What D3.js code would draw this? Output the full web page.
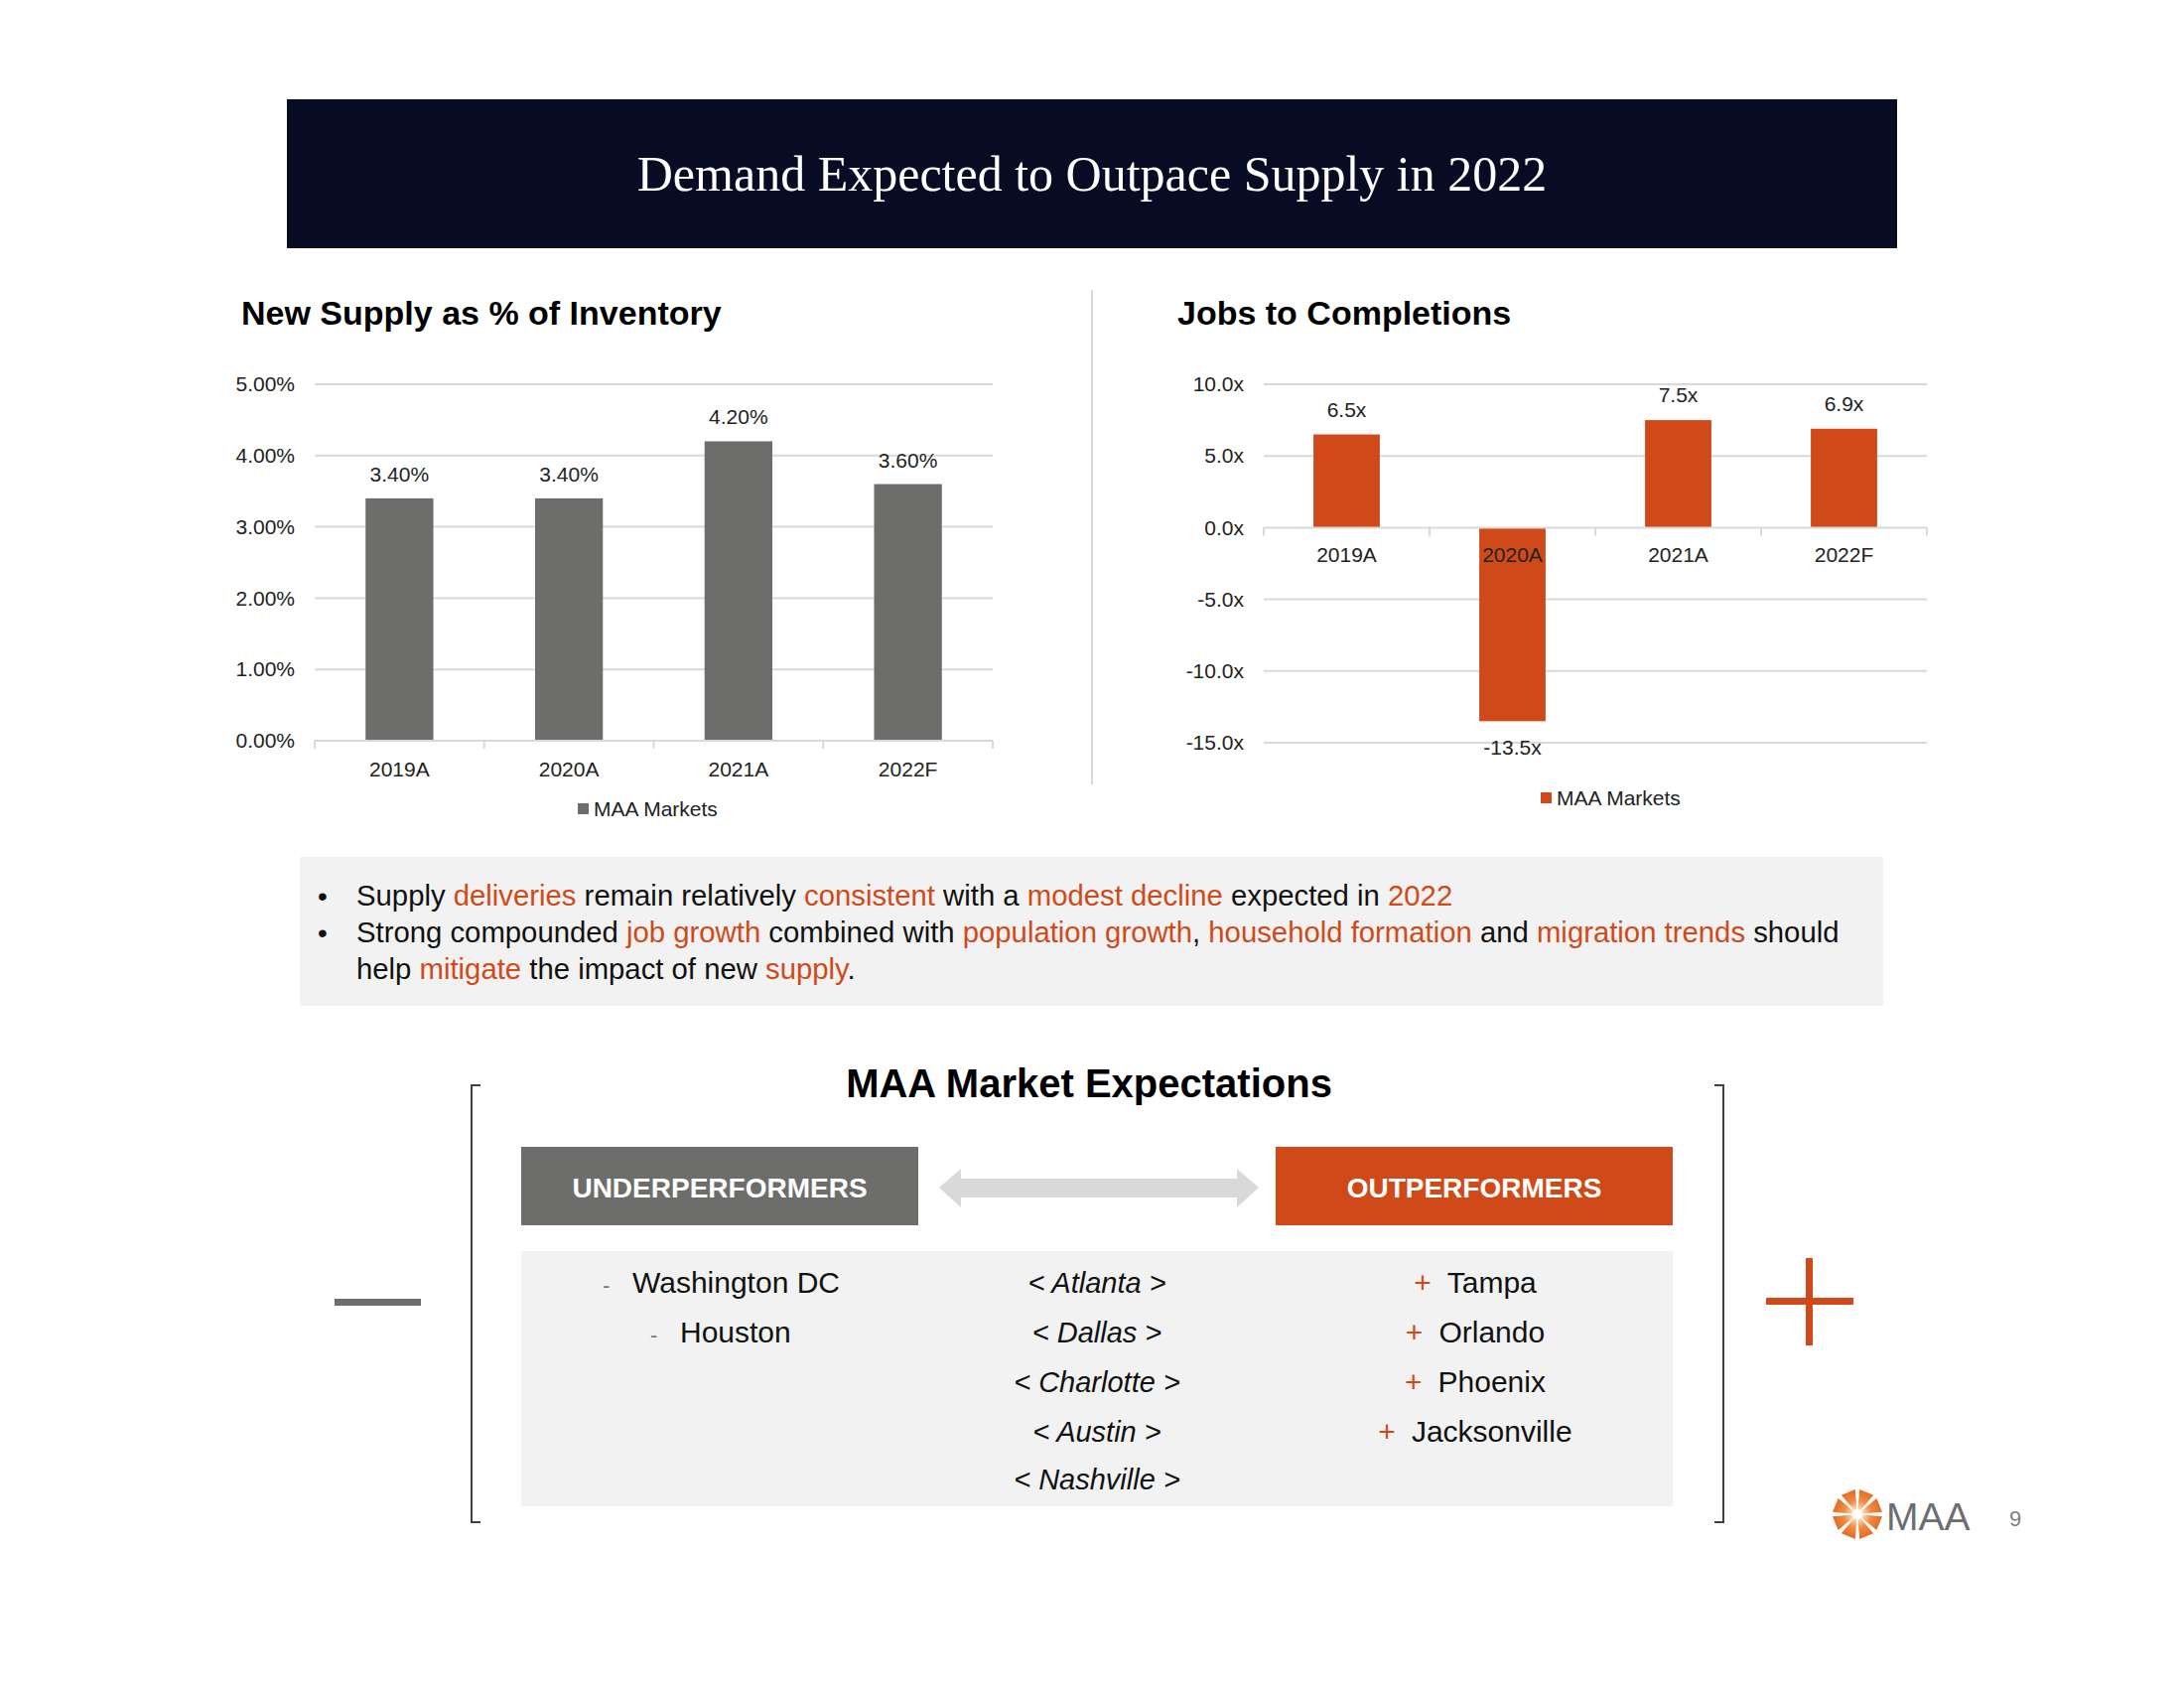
<!DOCTYPE html>
<html>
<head>
<meta charset="utf-8">
<script src="https://cdn.jsdelivr.net/npm/d3@7"></script>
<style>
  html, body { margin: 0; padding: 0; background: #ffffff; }
  svg { display: block; }
  text { font-family: "Liberation Sans", Arial, sans-serif; }
</style>
</head>
<body>
<svg id="chart" width="2200" height="1700"></svg>
<script>
// ---------------- DATA ----------------
const categories = ["2019A", "2020A", "2021A", "2022F"];
const supplyPct = [3.4, 3.4, 4.2, 3.6];
const jobsRatio = [6.5, -13.5, 7.5, 6.9];
const supplyTicks = [0, 1, 2, 3, 4, 5];
const jobsTicks = [-15, -10, -5, 0, 5, 10];
const legendLabel = "MAA Markets";
const pageTitle = "Demand Expected to Outpace Supply in 2022";
const supplyTitle = "New Supply as % of Inventory";
const jobsTitle = "Jobs to Completions";
const bullet1 = [["Supply ", false], ["deliveries", true], [" remain relatively ", false], ["consistent", true], [" with a ", false], ["modest decline", true], [" expected in ", false], ["2022", true]];
const bullet2 = [["Strong compounded ", false], ["job growth", true], [" combined with ", false], ["population growth", true], [", ", false], ["household formation", true], [" and ", false], ["migration trends", true], [" should", false]];
const bullet3 = [["help ", false], ["mitigate", true], [" the impact of new ", false], ["supply", true], [".", false]];
const expectationsTitle = "MAA Market Expectations";
const underLabel = "UNDERPERFORMERS";
const outLabel = "OUTPERFORMERS";
const underperformers = ["Washington DC", "Houston"];
const neutralMarkets = ["Atlanta", "Dallas", "Charlotte", "Austin", "Nashville"];
const outperformers = ["Tampa", "Orlando", "Phoenix", "Jacksonville"];
const pageNumber = "9";

// ---------------- STYLE ----------------
const NAVY = "#070c24", GRAY = "#6d6e6b", ORANGE = "#d04a19", GRID = "#d9d9d9", PANEL = "#f2f2f2";
const svg = d3.select("#chart");
const loc = d3.formatLocale({ decimal: ".", thousands: ",", grouping: [3], currency: ["$", ""], minus: "-" });
const f2 = loc.format(".2f"), f1 = loc.format(".1f");

// Header banner
svg.append("rect").attr("x", 289).attr("y", 100).attr("width", 1622).attr("height", 150).attr("fill", NAVY);
svg.append("text").attr("x", 1100).attr("y", 192).attr("text-anchor", "middle")
  .style("font-family", "'Liberation Serif', 'Times New Roman', serif").style("font-size", "50px").attr("fill", "#ffffff")
  .text(pageTitle);

// Divider
svg.append("line").attr("x1", 1100).attr("x2", 1100).attr("y1", 292).attr("y2", 790).attr("stroke", GRID).attr("stroke-width", 2);

function barChart(opts) {
  const g = svg.append("g");
  const x = d3.scaleBand().domain(categories).range([opts.x0, opts.x1]).padding(0);
  const y = d3.scaleLinear().domain(opts.domain).range([opts.yBottom, opts.yTop]);
  g.append("text").attr("x", opts.titleX).attr("y", 327).style("font-size", "34px").style("font-weight", "bold")
    .attr("fill", "#000").text(opts.title);
  g.selectAll(".grid").data(opts.ticks.filter(t => t !== opts.axisAt)).join("line")
    .attr("x1", opts.x0).attr("x2", opts.x1).attr("y1", d => y(d)).attr("y2", d => y(d))
    .attr("stroke", GRID).attr("stroke-width", 2);
  const ya = g.append("g").attr("transform", `translate(${opts.x0},0)`)
    .call(d3.axisLeft(y).tickValues(opts.ticks).tickSize(0).tickPadding(20).tickFormat(opts.tickFmt));
  ya.select(".domain").remove();
  ya.selectAll("text").style("font-family", "'Liberation Sans', Arial, sans-serif").style("font-size", "21px").attr("fill", "#222");
  const bw = x.bandwidth() * 0.4;
  g.selectAll(".bar").data(opts.values).join("rect")
    .attr("x", (d, i) => x(categories[i]) + (x.bandwidth() - bw) / 2)
    .attr("width", bw)
    .attr("y", d => Math.min(y(d), y(0)))
    .attr("height", d => Math.abs(y(d) - y(0)))
    .attr("fill", opts.color);
  const y0 = y(opts.axisAt);
  g.append("line").attr("x1", opts.x0).attr("x2", opts.x1).attr("y1", y0).attr("y2", y0).attr("stroke", GRID).attr("stroke-width", 2);
  const bounds = categories.map(c => x(c)).concat([opts.x1]);
  g.selectAll(".tk").data(bounds).join("line")
    .attr("x1", d => d).attr("x2", d => d).attr("y1", y0).attr("y2", y0 + 8)
    .attr("stroke", GRID).attr("stroke-width", 2);
  const xa = g.append("g").attr("transform", `translate(0,${y0})`)
    .call(d3.axisBottom(x).tickSize(0).tickPadding(opts.catPad));
  xa.select(".domain").remove();
  xa.selectAll("text").style("font-family", "'Liberation Sans', Arial, sans-serif").style("font-size", "21px").attr("fill", "#222");
  g.selectAll(".vl").data(opts.values).join("text")
    .attr("x", (d, i) => x(categories[i]) + x.bandwidth() / 2)
    .attr("y", d => d >= 0 ? y(d) - opts.labelGap : y(d) + 34)
    .attr("text-anchor", "middle").style("font-size", "21px").attr("fill", "#222")
    .text(opts.valFmt);
  g.append("rect").attr("x", opts.legX).attr("y", opts.legY - 5).attr("width", 11).attr("height", 11).attr("fill", opts.color);
  g.append("text").attr("x", opts.legX + 16).attr("y", opts.legY + 8).style("font-size", "21px").attr("fill", "#222").text(legendLabel);
}

barChart({
  x0: 317, x1: 1000, yTop: 387, yBottom: 746, domain: [0, 5], ticks: supplyTicks, axisAt: 0,
  values: supplyPct, color: GRAY, title: supplyTitle, titleX: 243,
  tickFmt: d => f2(d) + "%", valFmt: d => f2(d) + "%",
  catPad: 21, labelGap: 17, legX: 582, legY: 814
});
barChart({
  x0: 1273, x1: 1941, yTop: 387, yBottom: 748, domain: [-15, 10], ticks: jobsTicks, axisAt: 0,
  values: jobsRatio, color: ORANGE, title: jobsTitle, titleX: 1186,
  tickFmt: d => f1(d) + "x", valFmt: d => f1(d) + "x",
  catPad: 20, labelGap: 18, legX: 1552, legY: 803
});

// Bullet box
svg.append("rect").attr("x", 302).attr("y", 863).attr("width", 1595).attr("height", 150).attr("fill", PANEL);
function richLine(parts, x, y) {
  const t = svg.append("text").attr("x", x).attr("y", y).style("font-size", "29.3px");
  parts.forEach(p => t.append("tspan").attr("fill", p[1] ? ORANGE : "#111").text(p[0]));
}
[912, 949].forEach(yy => {
  svg.append("text").attr("x", 320).attr("y", yy).style("font-size", "28px").attr("fill", "#111").text("•");
});
richLine(bullet1, 359, 912);
richLine(bullet2, 359, 949);
richLine(bullet3, 359, 986);

// Expectations section
svg.append("text").attr("x", 1097).attr("y", 1105).attr("text-anchor", "middle")
  .style("font-size", "40px").style("font-weight", "bold").attr("fill", "#000").text(expectationsTitle);
const br = d3.path();
br.moveTo(484, 1093); br.lineTo(475, 1093); br.lineTo(475, 1533); br.lineTo(484, 1533);
br.moveTo(1727, 1093); br.lineTo(1736, 1093); br.lineTo(1736, 1533); br.lineTo(1727, 1533);
svg.append("path").attr("d", br.toString()).attr("fill", "none").attr("stroke", "#404040").attr("stroke-width", 2);
svg.append("rect").attr("x", 525).attr("y", 1155).attr("width", 400).attr("height", 79).attr("fill", GRAY);
svg.append("rect").attr("x", 1285).attr("y", 1155).attr("width", 400).attr("height", 79).attr("fill", ORANGE);
svg.append("text").attr("x", 725).attr("y", 1206).attr("text-anchor", "middle").style("font-size", "28px").style("font-weight", "bold").attr("fill", "#fff").text(underLabel);
svg.append("text").attr("x", 1485).attr("y", 1206).attr("text-anchor", "middle").style("font-size", "28px").style("font-weight", "bold").attr("fill", "#fff").text(outLabel);
const ar = d3.path();
ar.moveTo(946, 1196); ar.lineTo(968, 1177); ar.lineTo(968, 1187); ar.lineTo(1246, 1187); ar.lineTo(1246, 1177);
ar.lineTo(1268, 1196); ar.lineTo(1246, 1216); ar.lineTo(1246, 1206); ar.lineTo(968, 1206); ar.lineTo(968, 1216); ar.closePath();
svg.append("path").attr("d", ar.toString()).attr("fill", "#d9d9d9");
svg.append("rect").attr("x", 525).attr("y", 1260).attr("width", 1160).attr("height", 257).attr("fill", PANEL);
const underX = [637, 685];
underperformers.forEach((d, i) => {
  const yy = 1302 + i * 50;
  svg.append("text").attr("x", underX[i] - 30).attr("y", yy).style("font-size", "22px").attr("fill", "#777").text("-");
  svg.append("text").attr("x", underX[i]).attr("y", yy).style("font-size", "30px").attr("fill", "#111").text(d);
});
const neutralY = [1302, 1352, 1402, 1452, 1500];
neutralMarkets.forEach((d, i) => {
  svg.append("text").attr("x", 1105).attr("y", neutralY[i]).attr("text-anchor", "middle")
    .style("font-size", "29px").style("font-style", "italic").attr("fill", "#111").text("< " + d + " >");
});
outperformers.forEach((d, i) => {
  const t = svg.append("text").attr("x", 1486).attr("y", 1302 + i * 50).attr("text-anchor", "middle").style("font-size", "30px");
  t.append("tspan").attr("fill", ORANGE).text("+");
  t.append("tspan").attr("dx", 16).attr("fill", "#111").text(d);
});
svg.append("rect").attr("x", 337).attr("y", 1308).attr("width", 87).attr("height", 7).attr("fill", GRAY);
svg.append("rect").attr("x", 1779).attr("y", 1307).attr("width", 88).attr("height", 7).attr("fill", ORANGE);
svg.append("rect").attr("x", 1819).attr("y", 1267).attr("width", 7).attr("height", 88).attr("fill", ORANGE);

// Logo
const defs = svg.append("defs");
const grad = defs.append("radialGradient").attr("id", "lg").attr("gradientUnits", "userSpaceOnUse").attr("cx", 0).attr("cy", 0).attr("r", 25);
grad.append("stop").attr("offset", "0%").attr("stop-color", "#ffffff");
grad.append("stop").attr("offset", "25%").attr("stop-color", "#fbd3b0");
grad.append("stop").attr("offset", "55%").attr("stop-color", "#f08c45");
grad.append("stop").attr("offset", "100%").attr("stop-color", "#e36b22");
const logo = svg.append("g").attr("transform", "translate(1871,1525)");
d3.range(8).forEach(k => {
  logo.append("path").attr("d", "M5,-1.5 L24,-7.5 L24,7.5 L5,1.5 Z")
    .attr("transform", `rotate(${k * 45 + 22.5})`).attr("fill", "url(#lg)");
});
svg.append("text").attr("x", 1900).attr("y", 1541).style("font-size", "39px").attr("fill", "#6b6e73").text("MAA");
svg.append("text").attr("x", 2024).attr("y", 1537).style("font-size", "22px").attr("fill", "#808080").text(pageNumber);
</script>
</body>
</html>
